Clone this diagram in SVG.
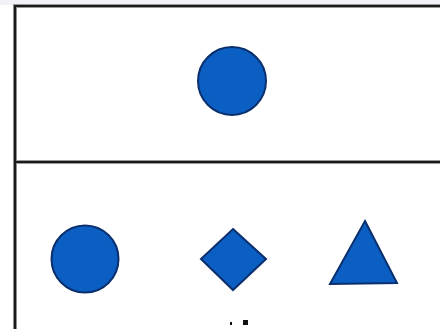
<svg xmlns="http://www.w3.org/2000/svg" width="440" height="329" viewBox="0 0 440 329">
<style>
.frame{fill:none;stroke:#1a1a1a;stroke-width:2.2}
.halo{fill:none;stroke:#9a9a9a;stroke-width:4}
.shape{fill:#0b5fc2;stroke:#0a2f6e;stroke-width:2}
</style>
<rect x="0" y="0" width="440" height="329" fill="#ffffff"/>
<rect x="0" y="0" width="440" height="5" fill="#f1f1f6"/>
<g id="frame">
<path class="halo" d="M15,329 V6 H440 M15,162 H440"/>
<path class="frame" d="M15,329 V6 H440 M15,162 H440"/>
</g>
<g id="top-circle"><circle class="shape" cx="232" cy="81" r="34"/></g>
<g id="bottom-circle"><circle class="shape" cx="85" cy="259" r="33.5"/></g>
<g id="diamond"><polygon class="shape" points="233,229 266,259 233,290 201,259"/></g>
<g id="triangle"><polygon class="shape" points="365,221 397,283 330,284"/></g>
<g id="marks" fill="#111">
<rect x="230" y="322" width="2" height="3"/>
<rect x="243" y="320" width="5" height="5"/>
</g>
</svg>
